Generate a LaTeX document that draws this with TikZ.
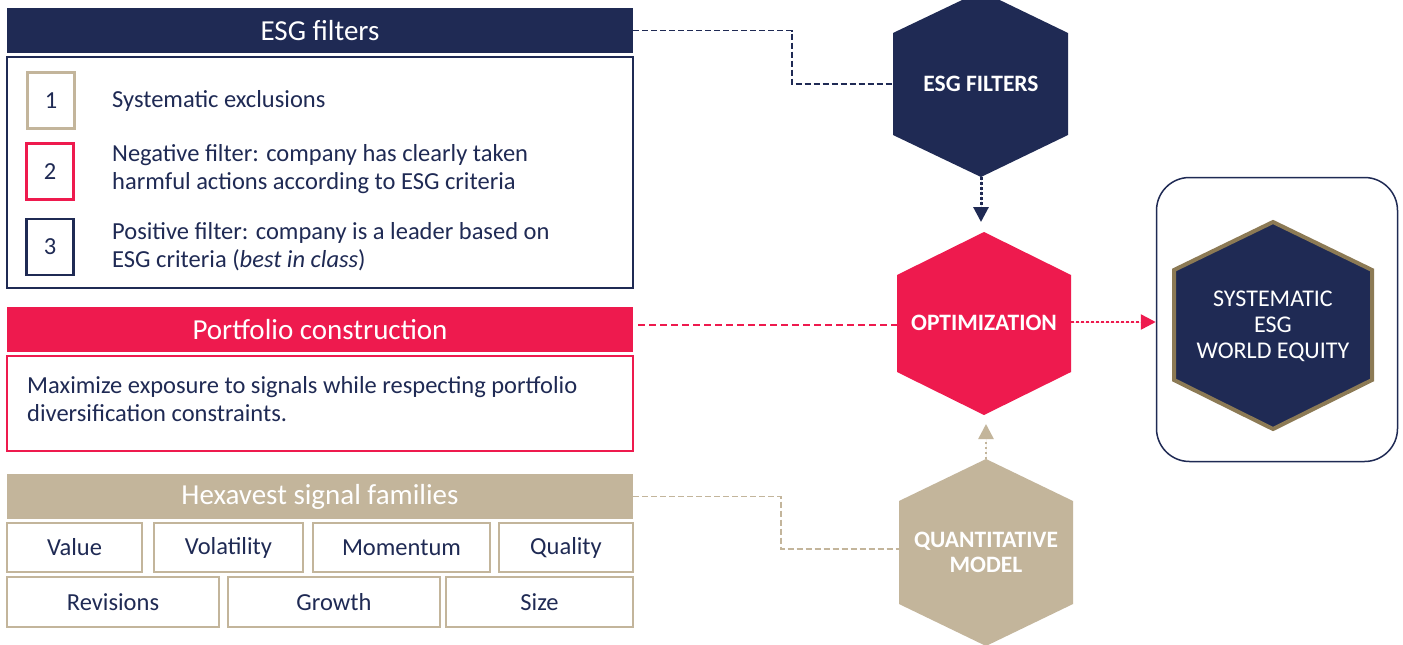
\documentclass[tikz,border=0pt]{standalone}
\usepackage{fontspec}
\setmainfont{Carlito}
\usetikzlibrary{arrows.meta,calc}
\definecolor{navy}{HTML}{1F2A54}
\definecolor{hred}{HTML}{EE1A4E}
\definecolor{tan}{HTML}{C3B59B}
\definecolor{dtan}{HTML}{8C7A55}
\begin{document}
\begin{tikzpicture}[x=1pt,y=-1pt,
  hdr/.style={minimum width=626pt,minimum height=45pt,inner sep=0pt,text=white,font=\fontsize{29}{34}\selectfont},
  bodybox/.style={minimum width=626pt,inner sep=0pt,line width=1.5pt},
  numbox/.style={minimum width=47pt,minimum height=56pt,inner sep=0pt,line width=2.2pt,text=navy,font=\fontsize{24.5}{28}\selectfont},
  txt/.style={anchor=west,inner sep=0pt,align=left,text=navy,font=\fontsize{24.5}{28}\selectfont},
  sigbox/.style={draw=tan,line width=2pt,inner sep=0pt,text=navy,font=\fontsize{24.5}{28}\selectfont},
  hextxt/.style={text=white,align=center,inner sep=0pt,font=\bfseries\fontsize{23.5}{25}\selectfont},
  navydash/.style={draw=navy,line width=1.8pt,dash pattern=on 6pt off 3pt},
  reddash/.style={draw=hred,line width=1.6pt,dash pattern=on 7pt off 4pt},
  tandash/.style={draw=tan,line width=1.6pt,dash pattern=on 6pt off 3pt},
  dotarrow/.style={line width=3pt,dash pattern=on 2.5pt off 2.5pt,-{Triangle[length=15pt,width=15pt]}}
]
\useasboundingbox[fill=white] (0,0) rectangle (1403,645);

% ESG filters panel
\node[hdr,fill=navy] (esghead) at (320,30.5) {ESG filters};
\node[bodybox,draw=navy,minimum height=231pt] (esgbody) at (320,172.5) {};
\node[numbox,draw=tan] (n1) at (51,100.5) {1};
\node[numbox,draw=hred] (n2) at (50,171.5) {2};
\node[numbox,draw=navy] (n3) at (50,247) {3};
\node[txt] (t1) at (112,101) {Systematic exclusions};
\node[txt] (t2) at (112,169) {Negative filter: company has clearly taken\\harmful actions according to ESG criteria};
\node[txt] (t3) at (112,247) {Positive filter: company is a leader based on\\ESG criteria (\textit{best in class})};

% Portfolio construction panel
\node[hdr,fill=hred] (pchead) at (320,329.5) {Portfolio construction};
\node[bodybox,draw=hred,minimum height=95pt] (pcbody) at (320,403.5) {};
\node[txt] (pct) at (27,399) {Maximize exposure to signals while respecting portfolio\\diversification constraints.};

% Hexavest signal families
\node[hdr,fill=tan] (hxhead) at (320,496.5) {Hexavest signal families};
\node[sigbox,minimum width=135pt,minimum height=49pt] (s1) at (74.5,547.5) {Value};
\node[sigbox,minimum width=149pt,minimum height=49pt] (s2) at (228.5,547.5) {Volatility};
\node[sigbox,minimum width=177pt,minimum height=49pt] (s3) at (401.5,547.5) {Momentum};
\node[sigbox,minimum width=134pt,minimum height=49pt] (s4) at (566,547.5) {Quality};
\node[sigbox,minimum width=212pt,minimum height=50pt] (s5) at (113,602) {Revisions};
\node[sigbox,minimum width=212pt,minimum height=50pt] (s6) at (334,602) {Growth};
\node[sigbox,minimum width=187pt,minimum height=50pt] (s7) at (539.5,602) {Size};

% Hexagons
\fill[navy] (893,33) -- (981,-9) -- (1068,33) -- (1068,135) -- (981,177) -- (893,135) -- cycle;
\node[hextxt] (esgf) at (981,84) {ESG FILTERS};
\coordinate (esgfL) at (893,84);
\coordinate (esgfB) at (981,177);

\fill[hred] (897,275) -- (984,232) -- (1071,275) -- (1071,372) -- (984,415) -- (897,372) -- cycle;
\node[hextxt] (opt) at (984,323) {OPTIMIZATION};
\coordinate (optL) at (897,325);
\coordinate (optR) at (1071,322);
\coordinate (optT) at (981,232);
\coordinate (optB) at (986,415);

\fill[tan] (899,501) -- (986,459) -- (1073,501) -- (1073,604) -- (986,646) -- (899,604) -- cycle;
\node[hextxt] (quant) at (986,552) {QUANTITATIVE\\MODEL};
\coordinate (quantL) at (899,549);
\coordinate (quantT) at (986,459);

% Output box
\node[draw=navy,line width=1.5pt,rounded corners=33pt,minimum width=241pt,minimum height=284pt,inner sep=0pt] (outbox) at (1277,319.5) {};
\filldraw[fill=navy,draw=dtan,line width=4pt] (1174,270) -- (1273,222) -- (1372,270) -- (1372,380) -- (1273,429) -- (1174,380) -- cycle;
\node[text=white,align=center,inner sep=0pt,font=\fontsize{24}{26}\selectfont] (outtxt) at (1273,326) {SYSTEMATIC\\ESG\\WORLD EQUITY};

% Connectors
\coordinate (b1) at (792,84);
\draw[navydash] (esghead.east) -| (b1) -- (esgfL);
\draw[reddash] (pchead.east |- optL) ++(5,0) -- (optL);
\coordinate (b2) at (781,549);
\draw[tandash] (hxhead.east) -| (b2) -- (quantL);
\draw[dotarrow,draw=navy,fill=navy,shorten >=10pt] (esgfB) -- (optT);
\draw[dotarrow,draw=tan,fill=tan,line width=2.5pt,shorten >=9pt] (quantT) -- (optB);
\draw[dotarrow,draw=hred,fill=hred,line width=2.5pt] (optR) -- (optR -| outbox.west);
\end{tikzpicture}
\end{document}
